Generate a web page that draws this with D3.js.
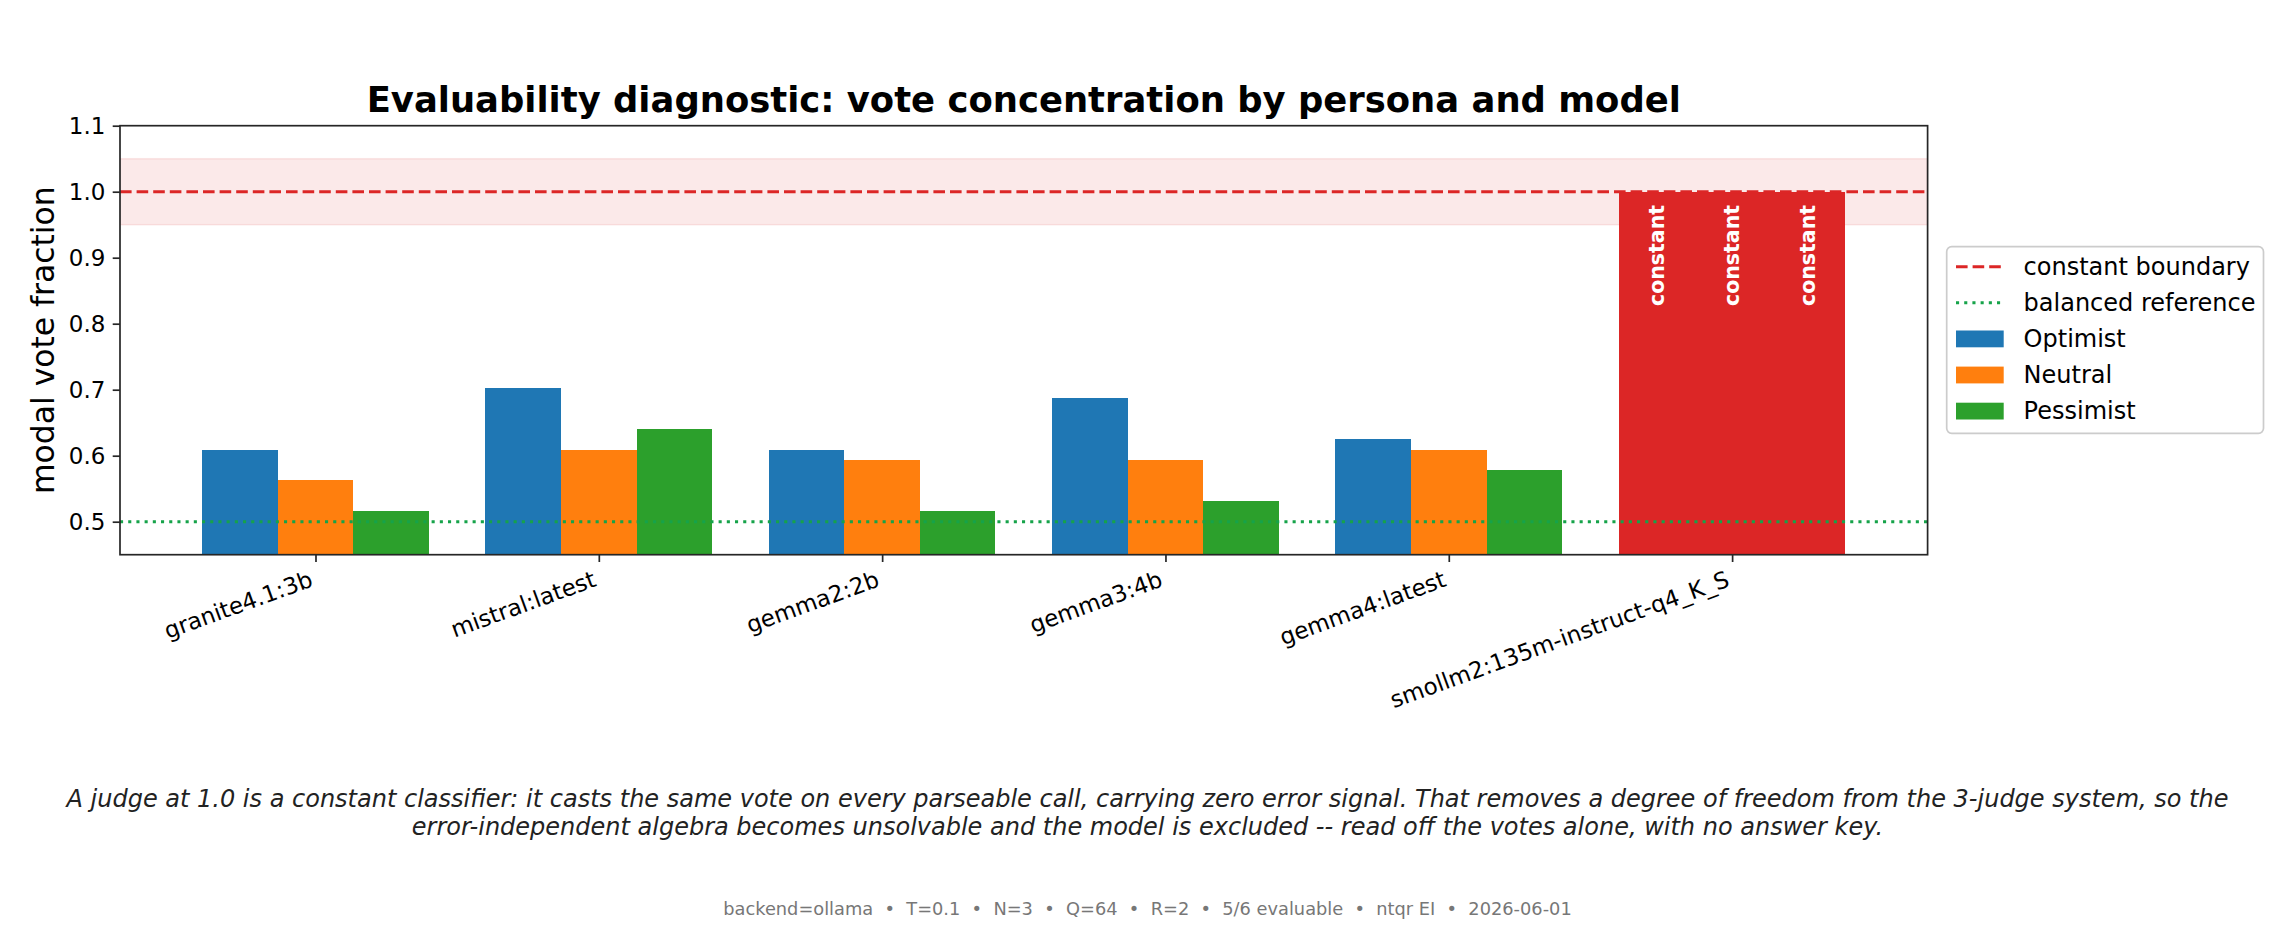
<!DOCTYPE html>
<html>
<head>
<meta charset="utf-8">
<script src="https://cdn.jsdelivr.net/npm/d3@7"></script>
<style>
  html, body { margin: 0; padding: 0; background: #ffffff; }
  svg { display: block; font-family: "DejaVu Sans", sans-serif; }
</style>
</head>
<body>
<svg id="chart" width="2295" height="930"></svg>
<script>
// ---------- data ----------
const models = ["granite4.1:3b", "mistral:latest", "gemma2:2b", "gemma3:4b", "gemma4:latest", "smollm2:135m-instruct-q4_K_S"];
const personas = ["Optimist", "Neutral", "Pessimist"];
const optimist  = [0.609, 0.703, 0.609, 0.688, 0.625, 1.0];
const neutral   = [0.563, 0.609, 0.594, 0.594, 0.609, 1.0];
const pessimist = [0.516, 0.641, 0.516, 0.531, 0.578, 1.0];
const yTicks = [0.5, 0.6, 0.7, 0.8, 0.9, 1.0, 1.1];
const constantBoundary = 1.0;
const constantBand = [0.95, 1.05];
const balancedReference = 0.5;
const legendLabels = ["constant boundary", "balanced reference"];
const titleText = "Evaluability diagnostic: vote concentration by persona and model";
const yLabelText = "modal vote fraction";
const constantLabel = "constant";
const captionLines = [
  "A judge at 1.0 is a constant classifier: it casts the same vote on every parseable call, carrying zero error signal. That removes a degree of freedom from the 3-judge system, so the",
  "error-independent algebra becomes unsolvable and the model is excluded -- read off the votes alone, with no answer key."
];
const footerText = "backend=ollama  \u2022  T=0.1  \u2022  N=3  \u2022  Q=64  \u2022  R=2  \u2022  5/6 evaluable  \u2022  ntqr EI  \u2022  2026-06-01";

// ---------- style ----------
const seriesColors = ["#1f77b4", "#ff7f0e", "#2ca02c"];
const red = "#dc2626";
const green = "#16a34a";
const W = 2295, H = 930;
const plot = { left: 120, right: 1927.6, top: 125.7, bottom: 554.7 };
const tickFont = 23, legendFont = 24;
const tickLen = 7.3, tickPad = 7.3;
const rot = 20;

const svg = d3.select("#chart");
const series = [optimist, neutral, pessimist];
const barW = 0.8 / series.length;

const lo = -0.4, hi = models.length - 1 + 0.4, pad = 0.05 * (hi - lo);
const x = d3.scaleLinear().domain([lo - pad, hi + pad]).range([plot.left, plot.right]);
const y = d3.scaleLinear().domain([0.45, 1.1]).range([plot.bottom, plot.top]);

// clip
svg.append("defs").append("clipPath").attr("id", "clip")
  .append("rect").attr("x", plot.left).attr("y", plot.top)
  .attr("width", plot.right - plot.left).attr("height", plot.bottom - plot.top);

const gPlot = svg.append("g").attr("clip-path", "url(#clip)");

// band
gPlot.append("rect")
  .attr("x", plot.left).attr("width", plot.right - plot.left)
  .attr("y", y(constantBand[1])).attr("height", y(constantBand[0]) - y(constantBand[1]))
  .attr("fill", red).attr("fill-opacity", 0.1)
  .attr("stroke", red).attr("stroke-opacity", 0.1).attr("stroke-width", 1.5);

// bars
const barData = [];
series.forEach((vals, j) => {
  vals.forEach((v, i) => {
    barData.push({ i, j, v, cx: i + (j - (series.length - 1) / 2) * barW });
  });
});
gPlot.selectAll("rect.bar").data(barData).enter().append("rect")
  .attr("class", "bar")
  .attr("x", d => x(d.cx - barW / 2))
  .attr("width", d => x(d.cx + barW / 2) - x(d.cx - barW / 2))
  .attr("y", d => y(d.v))
  .attr("height", d => y(0.45) - y(d.v))
  .attr("fill", d => d.v >= constantBoundary ? red : seriesColors[d.j])
  .attr("shape-rendering", "crispEdges");

// reference lines
gPlot.append("line")
  .attr("x1", plot.left).attr("x2", plot.right)
  .attr("y1", y(balancedReference)).attr("y2", y(balancedReference))
  .attr("stroke", green).attr("stroke-width", 3.1).attr("stroke-dasharray", "3.1,5.1");
gPlot.append("line")
  .attr("x1", plot.left).attr("x2", plot.right)
  .attr("y1", y(constantBoundary)).attr("y2", y(constantBoundary))
  .attr("stroke", red).attr("stroke-width", 3.1).attr("stroke-dasharray", "11.6,5");

// constant labels
svg.selectAll("text.const").data(barData.filter(d => d.v >= constantBoundary)).enter()
  .append("text").attr("class", "const")
  .attr("transform", d => `translate(${x(d.cx)},${y(0.98)}) rotate(-90)`)
  .attr("text-anchor", "end").attr("dominant-baseline", "central")
  .attr("font-size", 20.5).attr("font-weight", "bold").attr("fill", "#ffffff")
  .text(constantLabel);

// spines
svg.append("rect")
  .attr("x", plot.left).attr("y", plot.top)
  .attr("width", plot.right - plot.left).attr("height", plot.bottom - plot.top)
  .attr("fill", "none").attr("stroke", "#262626").attr("stroke-width", 1.7);

// y axis
const yAxis = svg.append("g").attr("transform", `translate(${plot.left},0)`)
  .call(d3.axisLeft(y).tickValues(yTicks).tickFormat(d3.format(".1f"))
    .tickSize(tickLen).tickPadding(tickPad).tickSizeOuter(0));
yAxis.select(".domain").remove();
yAxis.selectAll(".tick line").attr("stroke", "#262626").attr("stroke-width", 1.7);
yAxis.selectAll(".tick text").attr("font-size", tickFont).attr("fill", "#000")
  .attr("font-family", "DejaVu Sans").attr("dy", null).attr("dominant-baseline", "central");

// x axis
const sinR = Math.sin(rot * Math.PI / 180), cosR = Math.cos(rot * Math.PI / 180);
const xAxis = svg.append("g").attr("transform", `translate(0,${plot.bottom})`)
  .call(d3.axisBottom(x).tickValues(d3.range(models.length)).tickFormat(i => models[i])
    .tickSize(tickLen).tickPadding(tickPad).tickSizeOuter(0));
xAxis.select(".domain").remove();
xAxis.selectAll(".tick line").attr("stroke", "#262626").attr("stroke-width", 1.7);
xAxis.selectAll(".tick text")
  .attr("font-size", tickFont).attr("fill", "#000").attr("font-family", "DejaVu Sans")
  .attr("y", null).attr("dy", null)
  .attr("text-anchor", "end")
  .attr("transform", `translate(${-0.236 * tickFont * sinR},${tickLen + tickPad + 0.76 * tickFont * cosR}) rotate(${-rot})`);

// y label
svg.append("text")
  .attr("transform", `translate(53.6,${(plot.top + plot.bottom) / 2}) rotate(-90)`)
  .attr("text-anchor", "middle")
  .attr("font-size", 31.4).attr("fill", "#000").text(yLabelText);

// title
svg.append("text")
  .attr("x", (plot.left + plot.right) / 2).attr("y", 112)
  .attr("text-anchor", "middle").attr("font-size", 35.4).attr("font-weight", "bold")
  .attr("fill", "#000").text(titleText);

// legend
const lg = { x: 1946.7, y: 246.7, w: 316.8, h: 186.6 };
const lgG = svg.append("g");
lgG.append("rect").attr("x", lg.x).attr("y", lg.y).attr("width", lg.w).attr("height", lg.h)
  .attr("rx", 5).attr("fill", "#ffffff").attr("fill-opacity", 0.8)
  .attr("stroke", "#cccccc").attr("stroke-width", 1.7);
const entries = [
  { label: legendLabels[0], type: "line", color: red, dash: "11.6,5" },
  { label: legendLabels[1], type: "line", color: green, dash: "3.1,5.1" },
  ...personas.map((p, j) => ({ label: p, type: "patch", color: seriesColors[j] }))
];
const rowStep = 36.1, firstRow = lg.y + 20;
const hx0 = 1956, hx1 = 2003.7, tx = 2023.6;
entries.forEach((e, k) => {
  const cy = firstRow + k * rowStep;
  if (e.type === "line") {
    lgG.append("line").attr("x1", hx0).attr("x2", hx1).attr("y1", cy).attr("y2", cy)
      .attr("stroke", e.color).attr("stroke-width", 3.1).attr("stroke-dasharray", e.dash);
  } else {
    lgG.append("rect").attr("x", hx0).attr("y", cy - 8.4).attr("width", hx1 - hx0).attr("height", 16.8)
      .attr("fill", e.color);
  }
  lgG.append("text").attr("x", tx).attr("y", cy).attr("dominant-baseline", "central")
    .attr("font-size", legendFont).attr("fill", "#000").text(e.label);
});

// caption
captionLines.forEach((line, k) => {
  svg.append("text").attr("x", W / 2).attr("y", 807 + k * 28)
    .attr("text-anchor", "middle").attr("font-size", 24).attr("font-style", "italic")
    .attr("fill", "#222222").text(line);
});

// footer
svg.append("text").attr("x", W / 2).attr("y", 915)
  .attr("text-anchor", "middle").attr("font-size", 17.8).attr("fill", "#777777")
  .style("white-space", "pre").text(footerText);
</script>
</body>
</html>
